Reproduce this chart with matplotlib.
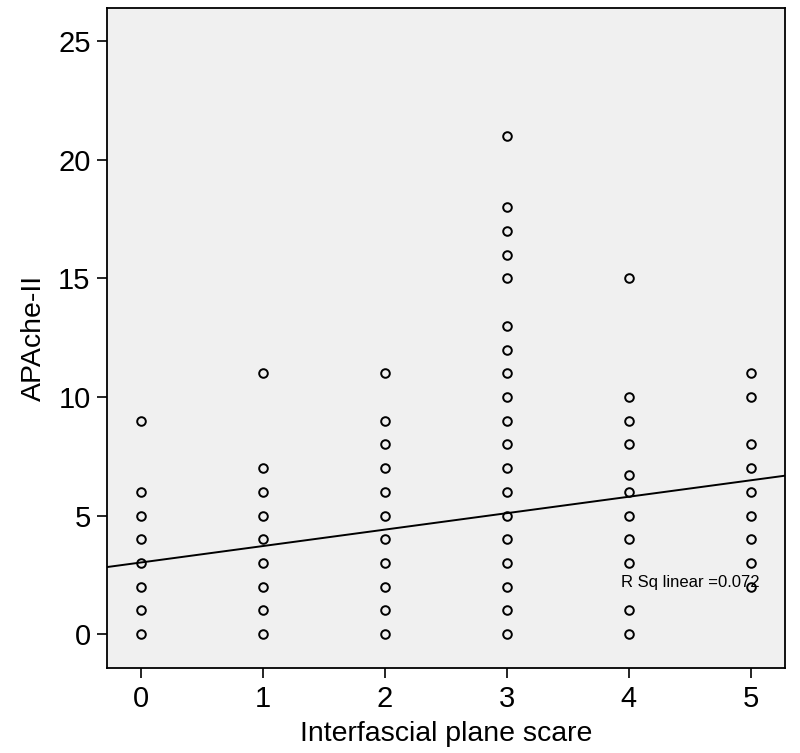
import matplotlib
matplotlib.use("Agg")
import matplotlib.pyplot as plt
import numpy as np

plt.rcParams['font.family'] = ['Liberation Sans', 'DejaVu Sans']

# Data: APACHE-II values at each interfascial plane score
score0 = [0, 1, 2, 3, 4, 5, 6, 9]
score1 = [0, 1, 2, 3, 4, 5, 6, 7, 11]
score2 = [0, 1, 2, 3, 4, 5, 6, 7, 8, 9, 11]
score3 = [0, 1, 2, 3, 4, 5, 6, 7, 8, 9, 10, 11, 12, 13, 15, 16, 17, 18, 21]
score4 = [0, 1, 3, 4, 5, 6, 6.7, 8, 9, 10, 15]
score5 = [2, 3, 4, 5, 6, 7, 8, 10, 11]
scores = [0, 1, 2, 3, 4, 5]
groups = [score0, score1, score2, score3, score4, score5]

# Fitted linear line
fit_intercept = 3.02
fit_slope = 0.693
r_sq_label = "R Sq linear =0.072"

x_ticks = [0, 1, 2, 3, 4, 5]
y_ticks = [0, 5, 10, 15, 20, 25]

fig = plt.figure(figsize=(8, 7.53), dpi=100)
ax = fig.add_axes([0.134, 0.113, 0.847, 0.876])
ax.set_facecolor('#f0f0f0')

xs = np.concatenate([[s] * len(g) for s, g in zip(scores, groups)])
ys = np.concatenate(groups)
ax.plot(xs, ys, linestyle='none', marker='o', markersize=6.2,
        markerfacecolor='none', markeredgecolor='black', markeredgewidth=1.4,
        zorder=3)

xlim = (-0.28, 5.28)
ylim = (-1.43, 26.4)
lx = np.array(xlim)
ax.plot(lx, fit_intercept + fit_slope * lx, color='black', linewidth=1.4, zorder=2)

ax.text(3.94, 2.19, r_sq_label, fontsize=12, va='center', ha='left', zorder=4)

ax.set_xlim(*xlim)
ax.set_ylim(*ylim)
ax.set_xticks(x_ticks)
ax.set_yticks(y_ticks)
ax.tick_params(axis='both', direction='out', length=7, width=1.2,
               labelsize=21, pad=5, color='black')
for sp in ax.spines.values():
    sp.set_linewidth(1.3)
    sp.set_color('black')

ax.set_xlabel('Interfascial plane scare', fontsize=20.5, labelpad=6)
ax.set_ylabel('APAche-II', fontsize=20.5, labelpad=8)

fig.savefig('out.png', dpi=100)
